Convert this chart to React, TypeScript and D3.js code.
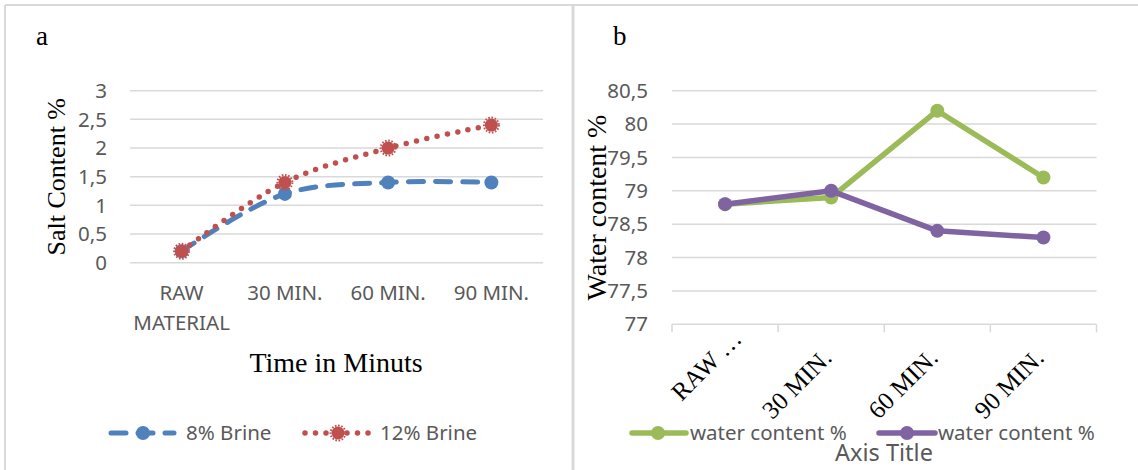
import { useMemo } from 'react';
import * as d3 from 'd3';

const W = 1138;
const H = 470;

// left panel: salt content
const saltCategories = ['RAW MATERIAL', '30 MIN.', '60 MIN.', '90 MIN.'];
const brine8 = [0.2, 1.2, 1.4, 1.4];
const brine12 = [0.2, 1.4, 2.0, 2.4];
const saltTicks = [0, 0.5, 1, 1.5, 2, 2.5, 3];

// right panel: water content
const waterCategories = ['RAW …', '30 MIN.', '60 MIN.', '90 MIN.'];
const waterA = [78.8, 78.9, 80.2, 79.2];
const waterB = [78.8, 79.0, 78.4, 78.3];
const waterTicks = [77, 77.5, 78, 78.5, 79, 79.5, 80, 80.5];

const GRID = '#d9d9d9';
const TEXT = '#595959';
const SANS = '"Noto Sans", "Open Sans", sans-serif';
const SERIF = '"Liberation Serif", "Times New Roman", serif';

const fmt = (v: number) => String(v).replace('.', ',');

const SaltChart = () => {
  const x = d3.scaleBand().domain(saltCategories).range([130, 543]);
  const y = d3.scaleLinear().domain([0, 3]).range([262.7, 90.7]);
  const cx = (c: string) => (x(c) ?? 0) + x.bandwidth() / 2;

  const line = d3
    .line<number>()
    .x((_, i) => cx(saltCategories[i]))
    .y((d) => y(d))
    .curve(d3.curveCatmullRom.alpha(0.5));

  return (
    <g>
      <text x={36} y={45} fontFamily={SERIF} fontSize={27}>a</text>
      {saltTicks.map((t) => (
        <g key={t}>
          <line x1={130} x2={543} y1={y(t)} y2={y(t)} stroke={GRID} strokeWidth={1.5} />
          <text x={107} y={y(t)} dy="0.35em" textAnchor="end" fill={TEXT} fontFamily={SANS} fontSize={20.5}>
            {fmt(t)}
          </text>
        </g>
      ))}
      {saltCategories.map((c) => {
        const words = c === 'RAW MATERIAL' ? ['RAW', 'MATERIAL'] : [c];
        return (
          <text key={c} x={cx(c)} y={300} textAnchor="middle" fill={TEXT} fontFamily={SANS} fontSize={20.5}>
            {words.map((w, i) => (
              <tspan key={w} x={cx(c)} dy={i === 0 ? 0 : 30}>{w}</tspan>
            ))}
          </text>
        );
      })}
      <text
        transform={`translate(65,${(y(0) + y(3)) / 2}) rotate(-90)`}
        textAnchor="middle"
        fontFamily={SERIF}
        fontSize={26}
      >
        Salt Content %
      </text>
      <text x={336} y={372} textAnchor="middle" fontFamily={SERIF} fontSize={28}>
        Time in Minuts
      </text>

      <path d={line(brine8) ?? ''} fill="none" stroke="#4f81bd" strokeWidth={5} strokeDasharray="15 12" strokeLinecap="round" />
      <path d={line(brine12) ?? ''} fill="none" stroke="#c0504d" strokeWidth={5.5} strokeDasharray="0 10.5" strokeLinecap="round" />
      {brine8.map((v, i) => (
        <circle key={'b' + i} cx={cx(saltCategories[i])} cy={y(v)} r={7} fill="#4f81bd" />
      ))}
      {brine12.map((v, i) => (
        <g key={'r' + i}>
          <circle cx={cx(saltCategories[i])} cy={y(v)} r={6.5} fill="#c0504d" />
          <circle cx={cx(saltCategories[i])} cy={y(v)} r={7.5} fill="none" stroke="#c0504d" strokeWidth={2} strokeDasharray="1.6 1.6" />
        </g>
      ))}

      {/* legend */}
      <g transform="translate(0,433)">
        <line x1={111} x2={174} y1={0} y2={0} stroke="#4f81bd" strokeWidth={5} strokeDasharray="15 12" strokeLinecap="round" />
        <circle cx={143} cy={0} r={7} fill="#4f81bd" />
        <text x={186} y={0} dy="0.35em" fill={TEXT} fontFamily={SANS} fontSize={20.5}>8% Brine</text>
        <line x1={305} x2={370} y1={0} y2={0} stroke="#c0504d" strokeWidth={5.5} strokeDasharray="0 10.5" strokeLinecap="round" />
        <circle cx={338} cy={0} r={6.5} fill="#c0504d" />
        <circle cx={338} cy={0} r={7.5} fill="none" stroke="#c0504d" strokeWidth={2} strokeDasharray="1.6 1.6" />
        <text x={380} y={0} dy="0.35em" fill={TEXT} fontFamily={SANS} fontSize={20.5}>12% Brine</text>
      </g>
    </g>
  );
};

const WaterChart = () => {
  const x = d3.scaleBand().domain(waterCategories).range([672, 1096.5]);
  const y = d3.scaleLinear().domain([77, 80.5]).range([324.3, 90.7]);
  const cx = (c: string) => (x(c) ?? 0) + x.bandwidth() / 2;

  const line = d3
    .line<number>()
    .x((_, i) => cx(waterCategories[i]))
    .y((d) => y(d));

  const bounds = [...waterCategories.map((c) => x(c) ?? 0), 1096.5];

  return (
    <g>
      <text x={613} y={45} fontFamily={SERIF} fontSize={27}>b</text>
      {waterTicks.map((t) => (
        <g key={t}>
          {t !== 77 && <line x1={672} x2={1096.5} y1={y(t)} y2={y(t)} stroke={GRID} strokeWidth={1.5} />}
          <text x={648} y={y(t)} dy="0.35em" textAnchor="end" fill={TEXT} fontFamily={SANS} fontSize={20.5}>
            {fmt(t)}
          </text>
        </g>
      ))}
      <line x1={672} x2={1096.5} y1={y(77)} y2={y(77)} stroke={GRID} strokeWidth={1.5} />
      {bounds.map((b, i) => (
        <line key={i} x1={b} x2={b} y1={y(77)} y2={y(77) + 8} stroke={GRID} strokeWidth={1.5} />
      ))}
      {waterCategories.map((c, i) => (
        <text
          key={c}
          transform={`translate(${cx(c) + (i === 0 ? 18 : 2)},${y(77) + (i === 0 ? 16 : 35)}) rotate(-45)`}
          textAnchor="end"
          fontFamily={SERIF}
          fontSize={25}
        >
          {c}
        </text>
      ))}
      <text
        transform={`translate(606,${(y(77) + y(80.5)) / 2}) rotate(-90)`}
        textAnchor="middle"
        fontFamily={SERIF}
        fontSize={28}
      >
        Water content %
      </text>

      <path d={line(waterA) ?? ''} fill="none" stroke="#9bbb59" strokeWidth={5.5} strokeLinejoin="round" />
      {waterA.map((v, i) => (
        <circle key={'g' + i} cx={cx(waterCategories[i])} cy={y(v)} r={7} fill="#9bbb59" />
      ))}
      <path d={line(waterB) ?? ''} fill="none" stroke="#8064a2" strokeWidth={5.5} strokeLinejoin="round" />
      {waterB.map((v, i) => (
        <circle key={'p' + i} cx={cx(waterCategories[i])} cy={y(v)} r={7} fill="#8064a2" />
      ))}

      {/* legend */}
      <g transform="translate(0,433)">
        <line x1={632} x2={686} y1={0} y2={0} stroke="#9bbb59" strokeWidth={5.5} strokeLinecap="round" />
        <circle cx={658} cy={0} r={7} fill="#9bbb59" />
        <text x={690} y={0} dy="0.35em" fill={TEXT} fontFamily={SANS} fontSize={20.5}>water content %</text>
        <line x1={879} x2={935} y1={0} y2={0} stroke="#8064a2" strokeWidth={5.5} strokeLinecap="round" />
        <circle cx={907} cy={0} r={7} fill="#8064a2" />
        <text x={938} y={0} dy="0.35em" fill={TEXT} fontFamily={SANS} fontSize={20.5}>water content %</text>
      </g>
      <text x={884} y={461} textAnchor="middle" fill={TEXT} fontFamily={SANS} fontSize={23.5}>Axis Title</text>
    </g>
  );
};

export default function App() {
  const frame = useMemo(
    () => [
      { x1: 5, y1: 5, x2: W, y2: 5 },
      { x1: 5, y1: 5, x2: 5, y2: H },
      { x1: 573, y1: 5, x2: 573, y2: H },
    ],
    []
  );
  return (
    <>
      <style>{'body{margin:0;background:#fff}'}</style>
      <svg width={W} height={H} style={{ display: 'block' }}>
        <rect width={W} height={H} fill="#fff" />
        {frame.map((f, i) => (
          <line key={i} {...f} stroke={GRID} strokeWidth={i === 2 ? 3 : 2} />
        ))}
        <SaltChart />
        <WaterChart />
      </svg>
    </>
  );
}
